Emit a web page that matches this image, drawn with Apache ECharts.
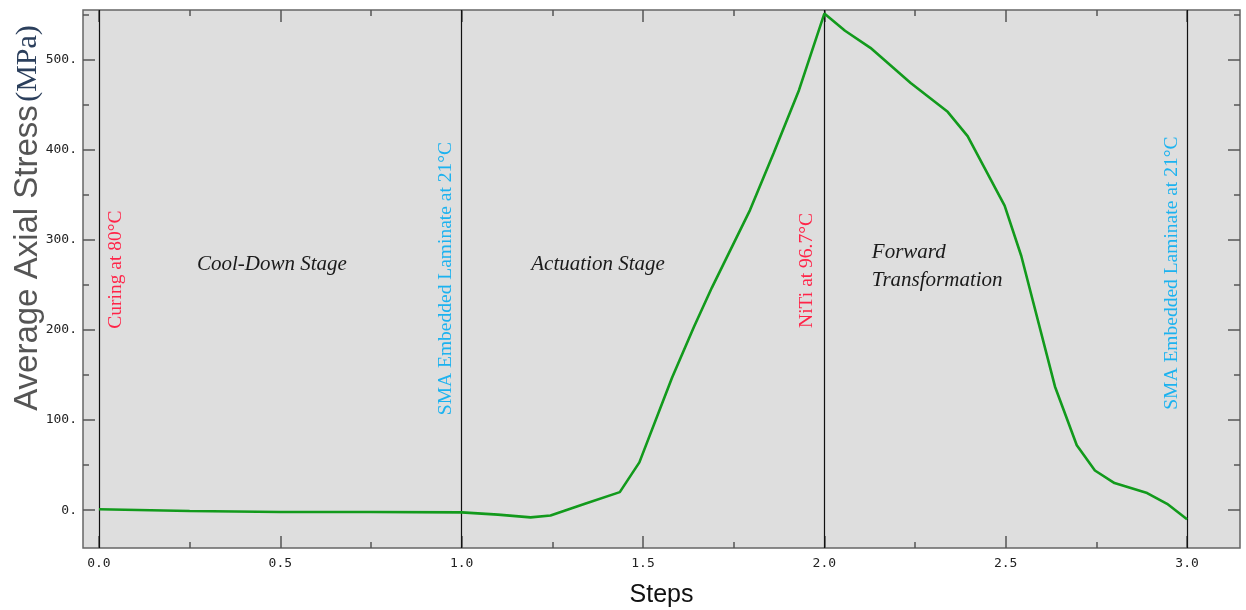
<!DOCTYPE html>
<html>
<head>
<meta charset="utf-8">
<script src="https://cdn.jsdelivr.net/npm/echarts@6/dist/echarts.min.js"></script>
<style>
  html, body { margin: 0; padding: 0; background: #fff; }
  #chart { width: 1246px; height: 610px; }
</style>
</head>
<body>
<div id="chart"></div>
<script>
// values
const steps = [0, 0.25, 0.5, 0.75, 1.0, 1.1, 1.19, 1.245, 1.34, 1.436, 1.49, 1.58, 1.64, 1.69, 1.795, 1.86, 1.93, 2.0,
  2.057, 2.127, 2.238, 2.34, 2.395, 2.497, 2.543, 2.636, 2.696, 2.746, 2.8, 2.89, 2.945, 3.0];
const stress = [1, -1, -2, -2, -2.5, -5, -8, -6, 7, 20, 53, 147, 203, 247, 333, 396, 466, 551,
  532, 513, 474, 442, 415, 338, 282, 137, 72, 44, 30, 19, 7, -10];

const stageLines = [0, 1, 2, 3];
const xMajorTicks = [0, 0.5, 1, 1.5, 2, 2.5, 3];
const xMinorTicks = [0.25, 0.75, 1.25, 1.75, 2.25, 2.75];
const yMajorTicks = [0, 100, 200, 300, 400, 500];
const yMinorTicks = [50, 150, 250, 350, 450, 550];

const xMin = -0.044, xMax = 3.146;
const yMin = -42, yMax = 555;

// annotation anchors in data units
const vertNotes = [
  { text: 'Curing at 80°C', at: [0.047, 267], color: '#ff2448' },
  { text: 'SMA Embedded Laminate at 21°C', at: [0.957, 257], color: '#1cb2ef' },
  { text: 'NiTi at 96.7°C', at: [1.952, 266], color: '#ff2448' },
  { text: 'SMA Embedded Laminate at 21°C', at: [2.958, 263], color: '#1cb2ef' }
];
const stageNotes = [
  { text: 'Cool-Down Stage', at: [0.477, 273], align: 'center' },
  { text: 'Actuation Stage', at: [1.376, 273], align: 'center' },
  { text: 'Forward', at: [2.131, 286], align: 'left' },
  { text: 'Transformation', at: [2.131, 255], align: 'left' }
];

const chart = echarts.init(document.getElementById('chart'));

const gridBox = { left: 83, right: 6, top: 10, bottom: 62, outerBoundsMode: 'none' };
const tickFont = { fontFamily: 'DejaVu Sans Mono', fontSize: 13, color: '#222' };
const axisGray = '#555';

function tickAxis(pos, gridIndex, values, len, extra) {
  const horiz = pos === 'top' || pos === 'bottom';
  return Object.assign({
    type: 'value',
    gridIndex: gridIndex,
    position: pos,
    min: horiz ? xMin : yMin,
    max: horiz ? xMax : yMax,
    axisLine: { show: false, onZero: false },
    axisTick: { show: true, inside: true, length: len, customValues: values, lineStyle: { color: axisGray, width: 1.5 } },
    axisLabel: { show: false },
    splitLine: { show: false }
  }, extra || {});
}

const option = {
  backgroundColor: '#fff',
  animation: false,
  grid: [
    Object.assign({ show: true, backgroundColor: '#dedede', borderColor: '#666', borderWidth: 1.5 }, gridBox),
    Object.assign({ show: false }, gridBox)
  ],
  xAxis: [
    tickAxis('bottom', 0, xMajorTicks, 12, {
      axisLabel: { show: true, customValues: xMajorTicks, margin: 9, formatter: v => v.toFixed(1), ...tickFont },
      name: 'Steps',
      nameLocation: 'middle',
      nameGap: 35,
      nameTextStyle: { fontFamily: 'Liberation Sans', fontSize: 25, color: '#111' }
    }),
    tickAxis('top', 0, xMajorTicks, 12),
    tickAxis('bottom', 1, xMinorTicks, 6),
    tickAxis('top', 1, xMinorTicks, 6)
  ],
  yAxis: [
    tickAxis('left', 0, yMajorTicks, 12, {
      axisLabel: { show: true, customValues: yMajorTicks, margin: 6, formatter: v => v + '.', ...tickFont }
    }),
    tickAxis('right', 0, yMajorTicks, 12),
    tickAxis('left', 1, yMinorTicks, 6),
    tickAxis('right', 1, yMinorTicks, 6)
  ],
  series: [{
    type: 'line',
    xAxisIndex: 0,
    yAxisIndex: 0,
    data: steps.map((s, i) => [s, stress[i]]),
    showSymbol: false,
    lineStyle: { color: '#129a1c', width: 2.6 },
    z: 5,
    markLine: {
      silent: true,
      symbol: ['none', 'none'],
      label: { show: false },
      lineStyle: { color: '#111', width: 1.2, type: 'solid' },
      data: stageLines.map(v => ({ xAxis: v }))
    }
  }]
};

chart.setOption(option);

const px = p => chart.convertToPixel({ gridIndex: 0 }, p);
const graphics = [];

vertNotes.forEach(n => {
  const p = px(n.at);
  graphics.push({
    type: 'text', x: p[0], y: p[1], rotation: Math.PI / 2, z: 10,
    style: { text: n.text, fill: n.color, font: '19.5px "Liberation Serif"', textAlign: 'center', textVerticalAlign: 'middle' }
  });
});

stageNotes.forEach(n => {
  const p = px(n.at);
  graphics.push({
    type: 'text', x: p[0], y: p[1], z: 10,
    style: { text: n.text, fill: '#1a1a1a', font: 'italic 21px "Liberation Serif"', textAlign: n.align, textVerticalAlign: 'middle' }
  });
});

// y axis title with mixed fonts
graphics.push({
  type: 'text', x: 28, y: 218, rotation: Math.PI / 2, z: 10,
  style: {
    text: '{a|Average Axial Stress} {b|(MPa)}',
    textAlign: 'center', textVerticalAlign: 'middle',
    rich: {
      a: { fontFamily: 'Liberation Sans', fontSize: 33, fill: '#555' },
      b: { fontFamily: 'Liberation Serif', fontSize: 30, fill: '#2b3f5c' }
    }
  }
});

chart.setOption({ graphic: graphics });
</script>
</body>
</html>
